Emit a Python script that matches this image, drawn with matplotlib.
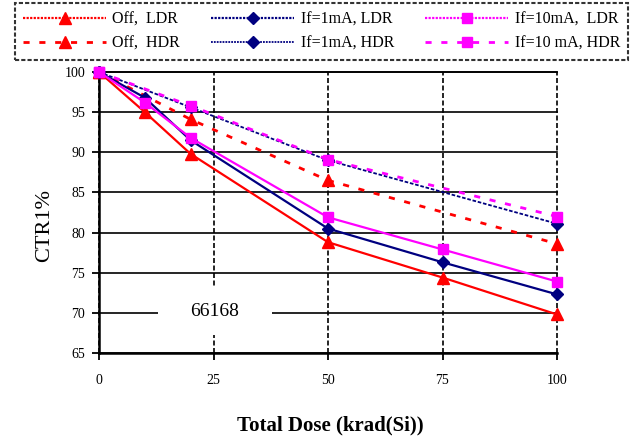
import matplotlib
matplotlib.use("Agg")
import matplotlib.pyplot as plt
from matplotlib.patches import Rectangle

plt.rcParams['font.family'] = ['Liberation Serif', 'DejaVu Serif']

# ---- data ----
dose_ldr = [0, 10, 20, 50, 75, 100]
off_ldr = [100, 95.0, 89.8, 78.8, 74.4, 69.8]
if1_ldr = [100, 96.8, 91.5, 80.5, 76.3, 72.3]
if10_ldr = [100, 96.2, 91.8, 81.9, 77.9, 73.9]

dose_hdr = [0, 20, 50, 100]
off_hdr = [100, 94.1, 86.5, 78.6]
if1_hdr = [100, 95.6, 89.0, 81.1]
if10_hdr = [100, 95.8, 89.1, 82.0]

labels = ["Off,  LDR", "If=1mA, LDR", "If=10mA,  LDR",
          "Off,  HDR", "If=1mA, HDR", "If=10 mA, HDR"]
xticks = [0, 25, 50, 75, 100]
yticks = [65, 70, 75, 80, 85, 90, 95, 100]
note = "66168"

RED = '#FF0000'
NAVY = '#000080'
MAG = '#FF00FF'

fig = plt.figure(figsize=(6.36, 4.42), dpi=100)
ax = fig.add_axes([99/636, 1-353/442, (557-99)/636, (353-72)/442])

l_off_ldr, = ax.plot(dose_ldr, off_ldr, color=RED, lw=1.6, marker='^', ms=9, zorder=3, clip_on=False)
l_if1_ldr, = ax.plot(dose_ldr, if1_ldr, color=NAVY, lw=1.6, marker='D', ms=6, zorder=4, clip_on=False)
l_if10_ldr, = ax.plot(dose_ldr, if10_ldr, color=MAG, lw=1.6, marker='s', ms=7.5, zorder=5, clip_on=False)
l_off_hdr, = ax.plot(dose_hdr, off_hdr, color=RED, lw=2, ls=(0, (2.2, 3.5)), marker='^', ms=9, zorder=3, clip_on=False)
l_if1_hdr, = ax.plot(dose_hdr, if1_hdr, color=NAVY, lw=1.3, ls=(0, (2, 1)), marker='D', ms=6, zorder=4, clip_on=False)
l_if10_hdr, = ax.plot(dose_hdr, if10_hdr, color=MAG, lw=2, ls=(0, (2.2, 3.5)), marker='s', ms=7.5, zorder=5, clip_on=False)

ax.set_xlim(0, 100)
ax.set_ylim(65, 100)
ax.set_xticks(xticks)
ax.set_yticks(yticks)
ax.tick_params(axis='both', labelsize=10, direction='out', length=5, width=1.3, color='black')
ax.tick_params(axis='x', pad=10)
ax.tick_params(axis='y', pad=5)

ax.set_axisbelow(True)
ax.yaxis.grid(True, color='black', lw=1.2, ls='-')
ax.xaxis.grid(True, color='black', lw=1.2, ls=(0, (3, 1.5)))
for gl in ax.xaxis.get_gridlines() + ax.yaxis.get_gridlines():
    gl.set_clip_on(False)
for s in ['left', 'bottom']:
    ax.spines[s].set_linewidth(1.8)
ax.spines['top'].set_linewidth(1.2)
ax.spines['right'].set_visible(False)

# white box with the note
ax.add_patch(Rectangle((12.9, 67.25), 24.9, 6.0, facecolor='white', edgecolor='none', zorder=1.5))
ax.text(25.3, 70.2, note, fontsize=14, ha='center', va='center', zorder=2)

fig.text(45/636, 1-225/442, "CTR1%", rotation=90, fontsize=16, ha='center', va='center')
fig.text(330/636, 1-425/442, "Total Dose (krad(Si))", fontsize=15, fontweight='bold',
         ha='center', va='center')

handles = [l_off_ldr, l_if1_ldr, l_if10_ldr, l_off_hdr, l_if1_hdr, l_if10_hdr]
# reorder for column-major fill with ncol=3
order = [0, 3, 1, 4, 2, 5]
leg = fig.legend([handles[i] for i in order], [labels[i] for i in order],
                 ncol=3, loc='lower left', mode='expand',
                 bbox_to_anchor=(15/636, 1-60/442, (628-15)/636, 55/442),
                 fontsize=11.5, handlelength=5.2, handletextpad=0.4,
                 borderaxespad=0.0, fancybox=False, labelspacing=0.55,
                 borderpad=0.5)
frame = leg.get_frame()
frame.set_edgecolor('black')
frame.set_linestyle((0, (2, 1)))
frame.set_linewidth(1.5)
for line, idx in zip(leg.get_lines(), order):
    if idx in (0, 1, 2, 4):
        line.set_linestyle((0, (1, 0.6)))

fig.savefig("out.png", dpi=100)
